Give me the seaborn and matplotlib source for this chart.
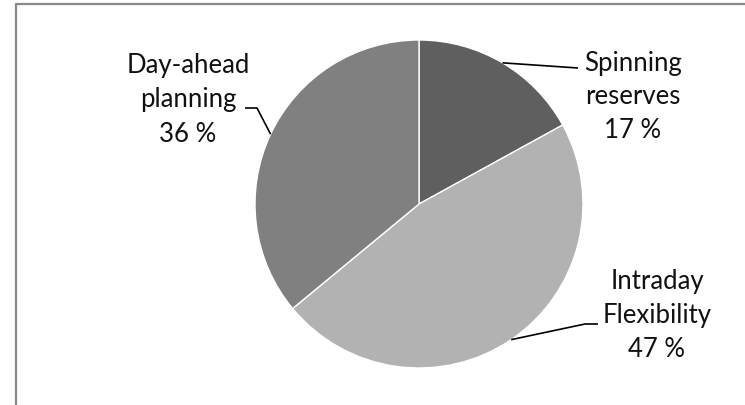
import numpy as np
import matplotlib
matplotlib.use("Agg")
import matplotlib.pyplot as plt
import seaborn as sns
from matplotlib.lines import Line2D

categories = ["Spinning\nreserves", "Intraday\nFlexibility", "Day-ahead\nplanning"]
values = [17, 47, 36]
colors = ["#5f5f5f", "#b2b2b2", "#808080"]

sns.set_theme(style="white")
plt.rcParams['font.family'] = ['Lato', 'DejaVu Sans']

W, H = 745, 406
fig = plt.figure(figsize=(W / 100, H / 100), dpi=100)
ax = fig.add_axes([0, 0, 1, 1])
ax.set_xlim(0, W)
ax.set_ylim(0, H)
ax.axis("off")

cx, cy, r = 419, H - 205, 164
wedges, _ = ax.pie(values, colors=colors, startangle=90, counterclock=False,
                   center=(cx, cy), radius=r,
                   wedgeprops=dict(edgecolor="white", linewidth=1.0))
ax.set_xlim(0, W)
ax.set_ylim(0, H)
ax.set_aspect("equal")

# label layout (pixel coords from top): text centre, leader path
layout = [
    dict(text=(633, 97), path=[(578, 69)]),
    dict(text=(657, 316), path=[(585, 325), (598, 325)]),
    dict(text=(188, 100), path=[(257, 109), (245, 109)]),
]

for w, cat, v, lay in zip(wedges, categories, values, layout):
    mid = np.deg2rad((w.theta1 + w.theta2) / 2)
    ex, ey = cx + r * np.cos(mid), cy + r * np.sin(mid)
    xs = [ex] + [p[0] for p in lay["path"]]
    ys = [ey] + [H - p[1] for p in lay["path"]]
    ax.plot(xs, ys, color="black", lw=1.2, solid_capstyle="butt")
    tx, ty = lay["text"]
    ax.text(tx, H - ty, f"{cat}\n{v} %", ha="center", va="center",
            fontsize=18.5, color="#111111", linespacing=1.45)

# outer chart frame (cropped)
fig.add_artist(Line2D([16 / W, 16 / W, 1.0], [0.0, 1 - 4.7 / H, 1 - 4.7 / H],
                      transform=fig.transFigure, color="#888888", lw=1.6))

fig.savefig("out.png", dpi=100)
